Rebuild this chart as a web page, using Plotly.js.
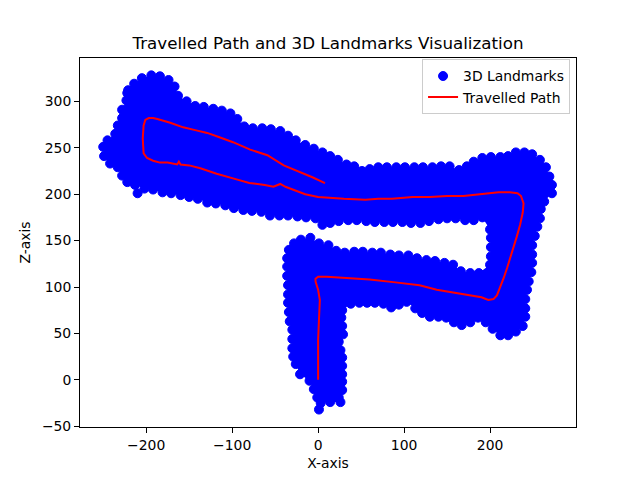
<!DOCTYPE html>
<html>
<head>
<meta charset="utf-8">
<script src="https://cdn.plot.ly/plotly-3.0.1.min.js"></script>
<style>html,body{margin:0;padding:0;background:#fff;}#chart{width:640px;height:480px;}</style>
</head>
<body>
<div id="chart"></div>
<script>
// Landmark cloud (edge landmarks, traced around the cloud)
const landX = [-221,-214,-205,-194,-184,-174,-167,-163,-153,-143,-133,-122,-112,-102,-94,-86,-76,-65,-55,-44,-35,-26,-15,-5,5,14,23,33,42,51,60,70,80,91,101,112,122,133,143,153,164,173,181,191,201,212,221,230,240,249,258,265,269,272,272,
  263,259,258,255,252,249,249,249,248,245,243,241,241,241,238,230,221,212,203,195,186,177,167,158,149,140,130,121,113,103,94,85,76,66,57,48,38,
  28,27,28,29,24,26,28,28,28,28,28,24,26,14,3,1,-1,-5,-10,-21,-26,-29,-30,-30,-30,-33,-34,-35,-35,-35,-36,-36,-36,-34,-28,
  -20,-9,1,12,21,31,42,52,63,73,84,94,105,115,126,136,147,157,166,177,187,
  200,201,201,201,200,
  191,181,171,160,150,140,129,119,108,98,87,77,66,56,45,35,24,14,5,-3,-14,-24,-35,-45,-56,-66,-77,-87,-98,-108,-119,-129,-140,-150,-160,-171,-181,-192,-202,
  -213,-222,-228,-233,-242,-249,-250,-245,-236,-233,-228,-228,-223,-222];
const landY = [312,319,325,328,327,323,316,306,300,295,294,292,290,287,281,273,271,271,270,268,263,258,253,249,245,241,237,232,230,225,227,229,229,229,229,229,229,229,230,230,226,230,235,239,240,240,241,245,245,243,237,229,219,210,201,
  192,184,174,165,155,145,135,126,116,106,97,87,77,68,58,52,48,48,55,62,67,62,59,62,67,68,68,72,77,84,81,78,82,83,83,83,82,
  75,67,58,49,41,32,24,15,6,-2,-11,-19,-24,-24,-25,-32,-19,-10,-1,6,17,25,34,44,54,63,73,83,92,102,112,122,131,140,147,
  151,153,147,145,139,137,138,138,137,137,135,134,134,131,129,128,126,124,117,115,115,
  124,133,143,153,162,
  175,172,172,174,174,173,171,169,169,170,170,170,170,171,172,172,171,169,167,174,175,176,177,177,177,181,182,183,185,188,190,191,195,197,199,201,202,205,206,
  210,213,220,229,233,241,251,258,265,274,282,291,301,309];
// isolated landmark just outside the cloud
const strayX = [-210];
const strayY = [201];

// Travelled path
const pathX = [0,0,0,1,2,0,-2,-3,-3,0,10,30,60,90,118,138,157,177,190,198,204,208,212,216,220,226,231,235,238,239,236,232,223,210,200,185,169,150,130,110,86,70,55,30,10,0,-15,-27,-38,-44,-52,-62,-80,-99,-118,-137,-150,-160,-162,-164,-175,-184,-192,-199,-203,-204,-203,-201,-197,-192,-187,-172,-157,-143,-129,-114,-99,-79,-59,-40,-21,-6,8];
const pathY = [0,20,43,65,86,97,102,106,109,111,111,110,108,105,102,97,94,91,89,86,87,91,100,110,121,138,154,167,180,190,198,201,202,202,201,199,198,198,197,197,195,195,194,195,196,197,200,204,208,211,208,210,212,217,222,228,231,232,235,232,234,234,236,239,244,260,274,280,282,282,281,277,272,269,266,261,256,248,242,231,224,218,212];

const xTicks = [-200,-100,0,100,200];
const yTicks = [-50,0,50,100,150,200,250,300];

const font = 'DejaVu Sans, Liberation Sans, sans-serif';

const traces = [
  { x: landX, y: landY, mode: 'none', fill: 'toself', fillcolor: 'blue',
    showlegend: false, hoverinfo: 'skip' },
  { x: landX.concat(strayX), y: landY.concat(strayY), mode: 'markers', name: '3D Landmarks',
    marker: { color: 'blue', size: 9, line: { color: 'blue', width: 1 } } },
  { x: pathX, y: pathY, mode: 'lines', name: 'Travelled Path',
    line: { color: 'red', width: 2 } }
];

const axisCommon = {
  ticks: 'outside', ticklen: 5, tickwidth: 1, tickcolor: 'black',
  showline: true, mirror: true, linecolor: 'black', linewidth: 1,
  showgrid: false, zeroline: false,
  tickfont: { family: font, size: 13.9, color: 'black' }
};

const layout = {
  width: 640, height: 480,
  margin: { l: 80, r: 64, t: 58, b: 53, pad: 0 },
  paper_bgcolor: 'white', plot_bgcolor: 'white',
  font: { family: font, size: 13.9, color: 'black' },
  title: { text: 'Travelled Path and 3D Landmarks Visualization',
    font: { family: font, size: 16.7, color: 'black' },
    x: 0.5, xref: 'paper', xanchor: 'center', y: 1 - 43 / 480, yref: 'container', yanchor: 'middle' },
  xaxis: Object.assign({}, axisCommon, { range: [-277, 300], tickvals: xTicks,
    title: { text: 'X-axis', font: { family: font, size: 13.9 }, standoff: 6 } }),
  yaxis: Object.assign({}, axisCommon, { range: [-50.8, 346.7], tickvals: yTicks,
    title: { text: 'Z-axis', font: { family: font, size: 13.9 }, standoff: 8 } }),
  showlegend: true,
  legend: { x: 0.988, y: 0.996, xanchor: 'right', yanchor: 'top',
    bgcolor: 'rgba(255,255,255,0.8)', bordercolor: '#cccccc', borderwidth: 1,
    font: { family: font, size: 13.9, color: 'black' }, itemwidth: 30 }
};

Plotly.newPlot('chart', traces, layout, { staticPlot: true, displayModeBar: false });
</script>
</body>
</html>
